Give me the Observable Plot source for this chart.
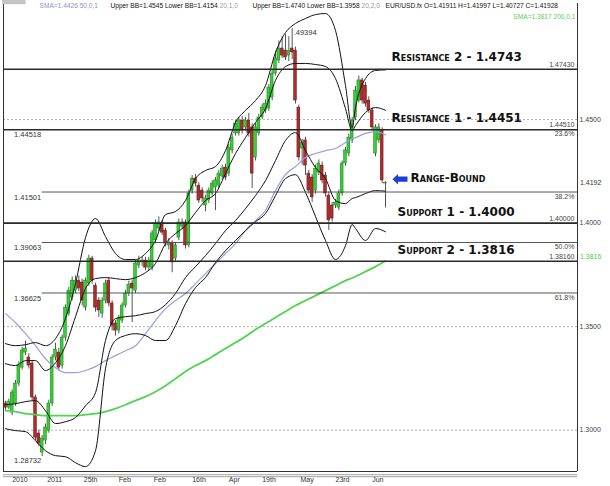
<!DOCTYPE html>
<html><head><meta charset="utf-8">
<script src="https://cdn.jsdelivr.net/npm/d3@7"></script>
<script src="https://cdn.jsdelivr.net/npm/@observablehq/plot@0.6"></script>
<style>
html,body{margin:0;padding:0;background:#fff;}
#chart svg{display:block;}
</style></head><body><div id="chart"></div>
<script>
// ---- EUR/USD daily candles ----
const opens = [
1.3129,1.3109,1.3085,1.3129,1.3225,1.3302,1.3375,1.3351,1.3322,1.3158,
1.2984,1.2892,1.2950,1.2998,1.3129,1.3351,1.3375,1.3312,1.3447,1.3563,
1.3640,1.3674,1.3722,1.3713,1.3592,1.3708,1.3829,1.3698,1.3626,1.3563,
1.3626,1.3722,1.3612,1.3515,1.3481,1.3529,1.3602,1.3660,1.3708,1.3674,
1.3795,1.3810,1.3819,1.3785,1.3785,1.3916,1.3974,1.3998,1.3964,1.3892,
1.3901,1.3829,1.3930,1.3983,1.4003,1.3892,1.4157,1.4215,1.4181,1.4157,
1.4085,1.4109,1.4143,1.4172,1.4181,1.4225,1.4268,1.4239,1.4351,1.4433,
1.4433,1.4495,1.4462,1.4495,1.4462,1.4317,1.4433,1.4510,1.4544,1.4553,
1.4606,1.4722,1.4785,1.4843,1.4833,1.4809,1.4843,1.4833,1.4558,1.4360,
1.4399,1.4239,1.4220,1.4157,1.4244,1.4278,1.4230,1.4133,1.4085,1.4085,
1.4075,1.4143,1.4288,1.4336,1.4399,1.4510,1.4592,1.4689,1.4664,1.4592,
1.4544,1.4336,1.4399,1.4447,1.41911];
const closes = [
1.3109,1.3138,1.3182,1.3225,1.3312,1.3385,1.3394,1.3312,1.3158,1.2964,
1.2935,1.2960,1.3013,1.3129,1.3351,1.3389,1.3302,1.3447,1.3592,1.3674,
1.3722,1.3722,1.3684,1.3626,1.3722,1.3829,1.3722,1.3592,1.3578,1.3626,
1.3708,1.3612,1.3505,1.3481,1.3539,1.3602,1.3660,1.3703,1.3684,1.3805,
1.3819,1.3819,1.3785,1.3819,1.3950,1.3998,1.4003,1.3954,1.3901,1.3906,
1.3810,1.3892,1.4003,1.4003,1.3892,1.4143,1.4215,1.4191,1.4109,1.4119,
1.4119,1.4157,1.4191,1.4206,1.4239,1.4263,1.4220,1.4365,1.4413,1.4481,
1.4495,1.4447,1.4495,1.4433,1.4239,1.4462,1.4510,1.4558,1.4577,1.4655,
1.4722,1.4795,1.4843,1.4809,1.4800,1.4833,1.4824,1.4592,1.4317,1.4389,
1.4278,1.4157,1.4124,1.4263,1.4288,1.4206,1.4143,1.4013,1.4022,1.4099,
1.4143,1.4288,1.4351,1.4413,1.4495,1.4640,1.4689,1.4592,1.4577,1.4544,
1.4462,1.4462,1.4462,1.4206,1.41928];
const highs = [
1.3140,1.3150,1.3195,1.3240,1.3330,1.3400,1.3430,1.3370,1.3335,1.3170,
1.3000,1.2975,1.3030,1.3145,1.3365,1.3420,1.3395,1.3460,1.3605,1.3690,
1.3740,1.3745,1.3745,1.3730,1.3735,1.3845,1.3840,1.3710,1.3640,1.3640,
1.3725,1.3735,1.3625,1.3530,1.3555,1.3615,1.3675,1.3720,1.3725,1.3820,
1.3840,1.3835,1.3835,1.3835,1.3965,1.4015,1.4030,1.4010,1.3975,1.3925,
1.3915,1.3905,1.4020,1.4020,1.4015,1.4160,1.4230,1.4235,1.4195,1.4170,
1.4135,1.4170,1.4205,1.4220,1.4255,1.4280,1.4285,1.4380,1.4430,1.4495,
1.4510,1.4515,1.4510,1.4530,1.4480,1.4480,1.4525,1.4575,1.4595,1.4670,
1.4740,1.4830,1.4880,1.4900,1.4910,1.4900,1.49394,1.4850,1.4570,1.4405,
1.4415,1.4255,1.4235,1.4280,1.4305,1.4295,1.4245,1.4150,1.4100,1.4115,
1.4160,1.4300,1.4365,1.4430,1.4510,1.4660,1.4710,1.4700,1.4680,1.4610,
1.4555,1.4475,1.4480,1.4460,1.41997];
const lows = [
1.3095,1.3100,1.3070,1.3115,1.3210,1.3290,1.3360,1.3295,1.3140,1.2950,
1.2920,1.28732,1.2930,1.2985,1.3115,1.3335,1.3285,1.3295,1.3430,1.3550,
1.3625,1.3660,1.3670,1.3600,1.3575,1.3695,1.3705,1.3570,1.3545,1.3540,
1.3610,1.3595,1.3480,1.3455,1.3465,1.3515,1.3590,1.3645,1.3520,1.3660,
1.3780,1.3790,1.3770,1.3770,1.3770,1.3900,1.3960,1.3940,1.3885,1.3870,
1.3760,1.3815,1.3915,1.3970,1.3875,1.3880,1.4140,1.4175,1.4095,1.4100,
1.4055,1.4095,1.4130,1.4060,1.4165,1.4210,1.4205,1.4225,1.4335,1.4420,
1.4420,1.4430,1.4445,1.4415,1.4167,1.4300,1.4420,1.4500,1.4530,1.4540,
1.4590,1.4710,1.4770,1.4795,1.4785,1.4780,1.4790,1.4575,1.4300,1.4280,
1.4230,1.4140,1.4100,1.4140,1.4230,1.4190,1.4125,1.3964,1.4005,1.4070,
1.4060,1.4130,1.4275,1.4320,1.4385,1.4495,1.4580,1.4575,1.4560,1.4530,
1.4445,1.4320,1.4385,1.4190,1.40727];

// ---- indicator lines, sampled at candle indices ----
const bandIdx = [0,3,6,9,12,15,18,21,24,27,30,33,36,39,42,45,48,51,54,57,60,63,66,69,72,75,78,81,84,87,90,93,96,99,102,104,105,108,111,114];
const bb2Upper = [1.3418,1.3408,1.3413,1.3423,1.3408,1.3442,1.3539,1.3708,1.3930,1.4022,
1.3935,1.3853,1.3824,1.3824,1.3853,1.3916,1.4041,1.4056,1.4109,1.4215,
1.4254,1.4273,1.4350,1.4486,1.4544,1.4592,1.4664,1.4824,1.4920,1.4964,
1.4988,1.5007,1.5012,1.4930,1.4664,1.4461,1.4558,1.4698,1.4737,1.4740];
const bb1Upper = [1.3321,1.3312,1.3336,1.3336,1.3288,1.3326,1.3408,1.3548,1.3684,1.3732,
1.3737,1.3732,1.3727,1.3737,1.3761,1.3805,1.3901,1.3949,1.3988,1.4051,
1.4109,1.4143,1.4239,1.4336,1.4413,1.4486,1.4553,1.4689,1.4756,1.4771,
1.4771,1.4766,1.4756,1.4698,1.4553,1.4447,1.4471,1.4534,1.4558,1.4545];
const bb1Lower = [1.3123,1.3128,1.3138,1.3143,1.3094,1.3032,1.3041,1.3061,1.3118,1.3181,
1.3433,1.3539,1.3548,1.3553,1.3563,1.3573,1.3606,1.3660,1.3737,1.3790,
1.3843,1.3901,1.3964,1.4012,1.4070,1.4133,1.4205,1.4302,1.4399,1.4437,
1.4350,1.4268,1.4215,1.4109,1.4094,1.4119,1.4123,1.4143,1.4157,1.4154];
const bb2Lower = [1.3007,1.2998,1.2993,1.2949,1.2901,1.2877,1.2872,1.2843,1.2824,1.2901,
1.3297,1.3433,1.3457,1.3466,1.3457,1.3433,1.3433,1.3505,1.3611,1.3689,
1.3737,1.3809,1.3867,1.3916,1.3964,1.4007,1.4046,1.4133,1.4215,1.4234,
1.4148,1.4032,1.3916,1.3824,1.3891,1.3993,1.3974,1.3916,1.3974,1.3958];
const sma50 = [1.3563,1.3519,1.3466,1.3408,1.3345,1.3302,1.3278,1.3278,1.3288,1.3307,
1.3336,1.3360,1.3384,1.3408,1.3466,1.3529,1.3587,1.3626,1.3660,1.3708,
1.3756,1.3805,1.3853,1.3901,1.3964,1.4012,1.4061,1.4157,1.4234,1.4273,
1.4317,1.4336,1.4350,1.4360,1.4389,1.4408,1.4413,1.4433,1.4442,1.4426];
const sma200 = [1.3094,1.3090,1.3080,1.3075,1.3070,1.3070,1.3070,1.3070,1.3075,1.3080,
1.3090,1.3104,1.3123,1.3143,1.3162,1.3186,1.3215,1.3249,1.3283,1.3312,
1.3336,1.3365,1.3394,1.3423,1.3452,1.3486,1.3515,1.3544,1.3573,1.3602,
1.3626,1.3650,1.3674,1.3698,1.3722,1.3735,1.3742,1.3766,1.3790,1.3817];

// ---- levels and labels ----
const levelValues = [1.4743, 1.4451, 1.4000, 1.3816];
const levelNames = ["Resistance 2 - 1.4743", "Resistance 1 - 1.4451", "Support 1 - 1.4000", "Support 2 - 1.3816"];
const levelTags = ["1.47430", "1.44510", "1.40000", "1.38160"];
const fibValues = [1.44518, 1.41501, 1.39063, 1.36625];
const fibPct = ["23.6%", "38.2%", "50.0%", "61.8%"];
const fibLow = 1.28732, fibHigh = 1.49394;
const lowIdx = 11, highIdx = 86;
const gridValues = [1.45, 1.40, 1.35, 1.30];
const lastPriceTag = "1.4192";
const sma200Tag = "1.3816";
const dateLabels = ["2010","2011","25th","Feb","Feb","16th","Apr","19th","May","23rd","Jun"];
const dateIdx = [2,12.5,23.5,34,44.5,56,67,77,88.5,99,110];
const headerItems = [
  {text: "SMA=1.4426 50,0,1", x: 39, color: "#8f8fd0"},
  {text: "Upper BB=1.4545 Lower BB=1.4154", x: 110, color: "#111"},
  {text: "20,1,0", x: 219, color: "#999"},
  {text: "Upper BB=1.4740 Lower BB=1.3958", x: 252, color: "#111"},
  {text: "20,2,0", x: 361, color: "#999"},
  {text: "EUR/USD.fx O=1.41911 H=1.41997 L=1.40727 C=1.41928", x: 385, color: "#111"}
];
const sma200Header = "SMA=1.3817 200,0,1";

const xDomain = [-0.6, 171.6];
const yDomain = [1.28005, 1.50605];
const candles = opens.map((o, i) => ({i, open: o, close: closes[i], high: highs[i], low: lows[i]}));
const last = candles[candles.length - 1];
const series = (vals) => bandIdx.map((x, k) => ({x, y: vals[k]}));
const green = "#33cf33", red = "#b32a2a";

const arrowSymbol = {draw(ctx) {
  ctx.moveTo(-7.5, 0); ctx.lineTo(-2, -5.2); ctx.lineTo(-2, -2.6); ctx.lineTo(7.5, -2.6);
  ctx.lineTo(7.5, 2.6); ctx.lineTo(-2, 2.6); ctx.lineTo(-2, 5.2); ctx.closePath();
}};

const capsFont = {fontFamily: "DejaVu Sans", fontWeight: "bold", fontSize: 12, fill: "#111"};

const chart = Plot.plot({
  width: 610, height: 486,
  marginTop: 3, marginBottom: 15, marginLeft: 3, marginRight: 33,
  x: {domain: xDomain},
  y: {domain: yDomain},
  style: {fontFamily: "Liberation Sans, Arial, sans-serif", background: "#fff"},
  marks: [
    Plot.ruleY(gridValues, {stroke: "#9a9a9a", strokeDasharray: "2,2", strokeWidth: 0.8}),
    // candles
    Plot.ruleX(candles, {x: "i", y1: "low", y2: "high", stroke: "#555", strokeWidth: 1}),
    Plot.rect(candles, {x1: d => d.i - 0.42, x2: d => d.i + 0.42, y1: "open", y2: "close",
      fill: d => d.close >= d.open ? green : red,
      stroke: d => d.close >= d.open ? "#1d7a1d" : "#5e1212", strokeWidth: 0.5}),
    // indicators
    Plot.line(series(sma200), {x: "x", y: "y", stroke: "#4fd44f", strokeWidth: 1.8, curve: "monotone-x"}),
    Plot.line(series(sma50), {x: "x", y: "y", stroke: "#9d9ddc", strokeWidth: 1.2, curve: "monotone-x"}),
    Plot.line(series(bb2Upper), {x: "x", y: "y", stroke: "#111", strokeWidth: 1, curve: "monotone-x"}),
    Plot.line(series(bb1Upper), {x: "x", y: "y", stroke: "#111", strokeWidth: 1, curve: "monotone-x"}),
    Plot.line(series(bb1Lower), {x: "x", y: "y", stroke: "#111", strokeWidth: 1, curve: "monotone-x"}),
    Plot.line(series(bb2Lower), {x: "x", y: "y", stroke: "#111", strokeWidth: 1, curve: "monotone-x"}),
    // fibonacci & support/resistance
    Plot.ruleY(fibValues, {x1: () => lowIdx, x2: () => xDomain[1], stroke: "#444", strokeWidth: 0.9}),
    Plot.ruleY(levelValues, {stroke: "#2a2a2a", strokeWidth: 1.6}),
    // frame
    Plot.ruleX([xDomain[0], xDomain[1]], {stroke: "#333", strokeWidth: 1}),
    Plot.ruleY([yDomain[0]], {stroke: "#333", strokeWidth: 1}),
    Plot.ruleY([1.2785, 1.27755], {stroke: "#888", strokeWidth: 0.8}),
    // labels
    Plot.text(fibValues, {x: () => lowIdx, y: d => d, text: d => d.toFixed(5), textAnchor: "end", lineAnchor: "top", dx: -1, dy: 2.5, fontSize: 7.5, fill: "#333"}),
    Plot.text([fibLow], {x: () => lowIdx, y: d => d, text: d => d.toFixed(5), textAnchor: "end", lineAnchor: "top", dx: -1, dy: 1.5, fontSize: 7.5, fill: "#333"}),
    Plot.text([fibHigh], {x: () => highIdx, y: d => d, text: d => d.toFixed(5).slice(1), textAnchor: "start", lineAnchor: "top", dx: 1.5, dy: 1.5, fontSize: 7.5, fill: "#333"}),
    Plot.text(fibValues, {x: () => xDomain[1], y: d => d, text: (d, i) => fibPct[i], textAnchor: "end", lineAnchor: "top", dx: -3, dy: 1.8, fontSize: 7, fill: "#444"}),
    Plot.text(levelValues, {x: () => xDomain[1], y: d => d, text: (d, i) => levelTags[i], textAnchor: "end", lineAnchor: "bottom", dx: -3, dy: -2.5, fontSize: 7, fill: "#444"}),
    Plot.text(levelValues.slice(0, 2), {x: () => last.i, y: d => d, text: (d, i) => levelNames[i], textAnchor: "start", lineAnchor: "bottom", dx: 6, dy: -8, fontVariant: "small-caps", ...capsFont}),
    Plot.text(levelValues.slice(2), {x: () => last.i, y: d => d, text: (d, i) => levelNames[i + 2], textAnchor: "start", lineAnchor: "bottom", dx: 12, dy: -7.5, fontVariant: "small-caps", ...capsFont}),
    Plot.dot([last.close], {x: () => last.i, y: d => d, symbol: arrowSymbol, fill: "#1d3fd6", stroke: "none", dx: 14.5, dy: -4}),
    Plot.text([last.close], {x: () => last.i, y: d => d, text: () => "Range-Bound", textAnchor: "start", lineAnchor: "middle", dx: 25, dy: -5, fontVariant: "small-caps", ...capsFont}),
    // right axis
    Plot.axisY(gridValues, {anchor: "right", tickSize: 0, tickPadding: 2, tickFormat: d => d.toFixed(4), fontSize: 7, color: "#444"}),
    Plot.text([last.close], {x: () => xDomain[1], y: d => d, text: () => lastPriceTag, textAnchor: "start", dx: 2.5, fontSize: 7, fill: "#333", className: "lastprice"}),
    Plot.text([sma200[sma200.length - 1]], {x: () => xDomain[1], y: d => d, text: () => sma200Tag, textAnchor: "start", dx: 2.5, dy: -4, fontSize: 7, fill: "#3fcf3f"}),
    // bottom date axis
    Plot.axisX(dateIdx, {anchor: "bottom", tickSize: 0, tickPadding: 6, textAnchor: "start", fontSize: 7, color: "#333", tickFormat: d => dateLabels[dateIdx.indexOf(d)]}),
    // header
    ...headerItems.map(h => Plot.text([h.text], {frameAnchor: "top-left", text: d => d, textAnchor: "start", lineAnchor: "top", dx: h.x - 3, dy: 0, fontSize: 6.6, fill: h.color})),
    Plot.text([sma200Header], {frameAnchor: "top-right", text: d => d, textAnchor: "end", lineAnchor: "top", dx: -2, dy: 11, fontSize: 6.6, fill: "#55cf55"})
  ]
});
document.getElementById("chart").appendChild(chart);
// grey background behind the last-price tag
const lp = chart.querySelector("g.lastprice text");
if (lp) {
  const b = lp.getBBox();
  const r = document.createElementNS("http://www.w3.org/2000/svg", "rect");
  r.setAttribute("x", b.x - 1); r.setAttribute("y", b.y - 0.5);
  r.setAttribute("width", b.width + 2); r.setAttribute("height", b.height + 1);
  r.setAttribute("fill", "#c4c4c4");
  lp.parentNode.insertBefore(r, lp);
}
</script></body></html>
